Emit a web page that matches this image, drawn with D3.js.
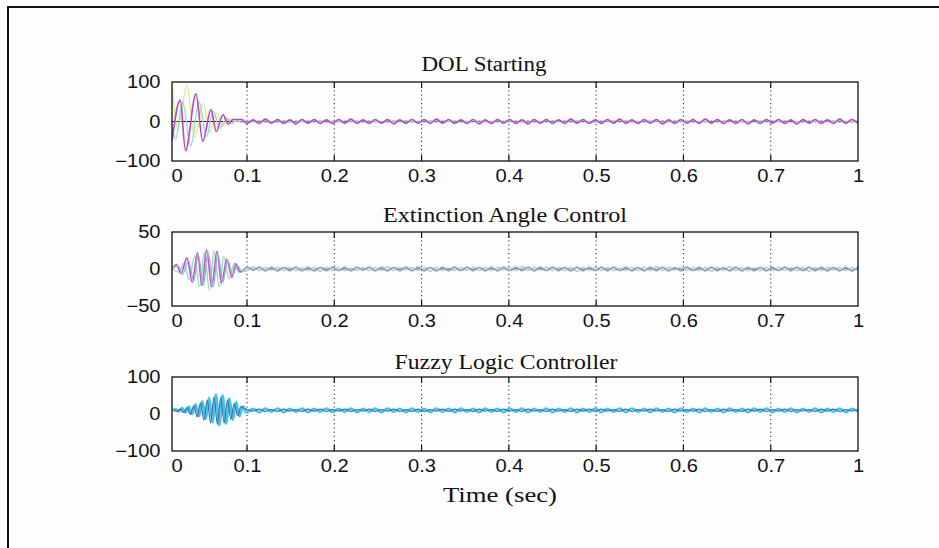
<!DOCTYPE html>
<html>
<head>
<meta charset="utf-8">
<script src="https://cdn.jsdelivr.net/npm/d3@7"></script>
<style>
  body { margin: 0; background: #fdfdfd; }
  svg { display: block; }
  .tick text { font-family: "Liberation Sans", Arial, sans-serif; font-size: 17.5px; fill: #111; }
  .title { font-family: "Liberation Serif", "Times New Roman", serif; font-size: 20px; fill: #111; }
</style>
</head>
<body>
<svg id="chart" width="939" height="548"></svg>
<script>
// axis text
const xTicks = [0, 0.1, 0.2, 0.3, 0.4, 0.5, 0.6, 0.7, 0.8];
const xTickLabels = ["0", "0.1", "0.2", "0.3", "0.4", "0.5", "0.6", "0.7", "1"];
const titles = ["DOL Starting", "Extinction Angle Control", "Fuzzy Logic Controller"];
const xLabel = "Time (sec)";
const yDomains = [[-100, 100], [-50, 50], [-100, 100]];
const yTicks = [[-100, 0, 100], [-50, 0, 50], [-100, 0, 100]];
const yTickLabels = [["\u2212100", "0", "100"], ["\u221250", "0", "50"], ["\u2212100", "0", "100"]];

// start-up transients, [time, value] at each swing
const dolA = [[0,-50],[0.011,54],[0.018,-74],[0.032,70],[0.041,-50],[0.052,30],[0.059,-25],[0.068,17],[0.075,-7],[0.081,5]];
const dolB = [[0,-10],[0.005,-45],[0.014,50],[0.025,-62],[0.036,50],[0.046,-38],[0.055,26],[0.064,-18],[0.072,10],[0.08,-5]];
const dolC = [[0,98],[0.008,-20],[0.02,92],[0.03,-40],[0.042,45],[0.05,-28],[0.06,22],[0.067,-12],[0.074,7]];

const extA = [[0,0],[0.006,6],[0.012,-6],[0.02,15],[0.027,-18],[0.034,22],[0.04,-22],[0.046,26],[0.053,-24],[0.06,24],[0.066,-19],[0.073,13],[0.08,-11],[0.085,7],[0.091,-4]];
const extB = [[0,0],[0.009,-4],[0.016,8],[0.023,-15],[0.03,17],[0.037,-24],[0.043,22],[0.05,-28],[0.056,24],[0.063,-24],[0.069,17],[0.076,-13],[0.083,8],[0.089,-4]];
const extC = [[0,1],[0.008,4],[0.014,-7],[0.022,11],[0.029,-16],[0.035,19],[0.042,-22],[0.048,23],[0.055,-24],[0.061,20],[0.068,-17],[0.074,12],[0.081,-8],[0.087,5],[0.093,-3]];

const fuzCyan = [[0,10],[0.0045,13],[0.009,7],[0.0135,16],[0.018,4],[0.0225,20],[0.027,0],[0.0315,26],[0.036,-6],[0.0405,34],[0.045,-14],[0.0495,44],[0.054,-22],[0.0585,52],[0.063,-30],[0.0675,50],[0.072,-26],[0.0765,42],[0.081,-16],[0.0855,32],[0.09,-6],[0.0945,20],[0.099,4]];
const fuzBlue = [[0.002,10],[0.0065,7],[0.011,13],[0.0155,4],[0.02,17],[0.0245,-1],[0.029,23],[0.0335,-8],[0.038,30],[0.0425,-16],[0.047,38],[0.0515,-24],[0.056,46],[0.0605,-28],[0.065,45],[0.0695,-24],[0.074,38],[0.0785,-14],[0.083,28],[0.0875,-4],[0.092,20]];

// steady ripple afterwards, one value per half swing
const tSteady = [
  0.086, 0.093, 0.1, 0.107, 0.114, 0.121, 0.128, 0.135, 0.142, 0.149,
  0.156, 0.163, 0.17, 0.177, 0.184, 0.191, 0.198, 0.205, 0.212, 0.219,
  0.226, 0.233, 0.24, 0.247, 0.254, 0.261, 0.268, 0.275, 0.282, 0.289,
  0.296, 0.303, 0.31, 0.317, 0.324, 0.331, 0.338, 0.345, 0.352, 0.359,
  0.366, 0.373, 0.38, 0.387, 0.394, 0.401, 0.408, 0.415, 0.422, 0.429,
  0.436, 0.443, 0.45, 0.457, 0.464, 0.471, 0.478, 0.485, 0.492, 0.499,
  0.506, 0.513, 0.52, 0.527, 0.534, 0.541, 0.548, 0.555, 0.562, 0.569,
  0.576, 0.583, 0.59, 0.597, 0.604, 0.611, 0.618, 0.625, 0.632, 0.639,
  0.646, 0.653, 0.66, 0.667, 0.674, 0.681, 0.688, 0.695, 0.702, 0.709,
  0.716, 0.723, 0.73, 0.737, 0.744, 0.751, 0.758, 0.765, 0.772, 0.779,
  0.786, 0.793, 0.8
];
const dolASteady = [
  -4,5,-5,4,-5,6,-4,5,-5,4, -6,5,-4,5,-5,4,-5,5,-4,6, -5,4,-5,5,-4,5,-6,4,-5,5,
  -4,5,-5,6,-4,5,-5,4,-5,5, -6,4,-5,5,-4,5,-5,4,-6,5, -4,5,-5,4,-5,6,-4,5,-5,4,
  -5,5,-4,6,-5,4,-5,5,-4,5, -6,4,-5,5,-4,5,-5,6,-4,5, -5,4,-5,5,-6,4,-5,5,-4,5,
  -5,4,-6,5,-4,5,-5,4,-5,6, -4,5,-5
];
const dolBSteady = [
  2,-2,2,-1,2,-2,1,-2,2,-2, 2,-1,2,-2,2,-2,1,-2,2,-1, 2,-2,2,-2,1,-2,2,-1,2,-2,
  1,-2,2,-2,2,-1,2,-2,1,-2, 2,-2,1,-2,2,-1,2,-2,2,-2, 1,-2,2,-1,2,-2,2,-2,1,-2,
  2,-1,2,-2,2,-2,1,-2,2,-1, 2,-2,2,-1,2,-2,1,-2,2,-2, 2,-1,2,-2,1,-2,2,-2,2,-1,
  2,-2,1,-2,2,-2,2,-1,2,-2, 1,-2,2
];
const dolCSteady = [
  -1,2,-2,1,-2,2,-1,2,-2,1, -2,1,-2,2,-1,2,-2,1,-2,2, -1,2,-2,1,-2,2,-1,2,-2,1,
  -2,2,-1,2,-2,1,-2,2,-1,2, -2,1,-2,2,-1,2,-2,1,-2,2, -1,2,-2,1,-2,2,-1,2,-2,1,
  -2,2,-1,2,-2,1,-2,2,-1,2, -2,1,-2,2,-1,2,-2,1,-2,2, -1,2,-2,1,-2,2,-1,2,-2,1,
  -2,2,-1,2,-2,1,-2,2,-1,2, -2,1,-2
];
const extASteady = [
  1,-2,2,-1,2,-2,1,-2,2,-1, 2,-2,1,-2,2,-1,2,-2,1,-2, 2,-1,2,-2,1,-2,2,-1,2,-2,
  1,-2,2,-2,1,-1,2,-2,2,-1, 2,-2,1,-2,2,-2,1,-1,2,-2, 1,-2,2,-1,2,-2,2,-1,1,-2,
  2,-1,2,-2,1,-2,2,-2,1,-1, 2,-2,1,-1,2,-2,1,-2,2,-1, 1,-2,2,-2,1,-1,2,-2,1,-2,
  2,-1,2,-2,2,-1,1,-2,2,-2, 1,-2,2
];
const extBSteady = [
  -2,2,-2,3,-2,2,-1,2,-2,2, -2,1,-2,2,-3,2,-2,2,-2,1, -2,2,-2,2,-2,3,-2,2,-1,2,
  -2,2,-3,2,-2,1,-2,2,-2,2, -2,2,-2,2,-1,2,-2,3,-2,2, -1,2,-2,2,-2,2,-3,2,-2,2,
  -2,2,-2,1,-2,2,-2,2,-2,3, -2,2,-1,2,-2,2,-2,2,-3,2, -2,3,-2,2,-2,1,-2,2,-2,2,
  -2,2,-2,2,-3,2,-2,2,-1,2, -2,2,-2
];
const extCSteady = [
  3,-3,3,-2,3,-3,3,-3,2,-3, 3,-3,3,-3,2,-3,3,-2,3,-3, 3,-2,3,-3,3,-3,2,-3,3,-3,
  3,-3,2,-3,3,-3,3,-2,3,-3, 2,-3,3,-3,3,-2,3,-3,3,-3, 3,-2,3,-3,2,-3,3,-3,3,-2,
  3,-3,3,-2,3,-3,2,-3,3,-3, 3,-3,2,-3,3,-2,3,-3,3,-3, 2,-3,3,-3,3,-3,2,-3,3,-2,
  3,-3,3,-2,3,-3,3,-3,2,-3, 3,-3,3
];
const fuzCyanSteady = [
  5,15,6,14,5,15,6,15,5,14, 6,15,5,14,6,15,5,14,6,15, 5,14,6,15,5,15,6,14,5,15,
  6,14,5,15,6,14,5,15,6,14, 5,15,6,14,5,15,6,15,5,14, 6,15,5,14,6,15,5,14,6,15,
  5,14,6,15,5,15,6,14,5,15, 6,14,5,15,6,14,5,15,6,14, 5,15,6,14,5,15,6,15,5,14,
  6,15,5,14,6,15,5,14,6,15, 5,14,6
];
const fuzBlueSteady = [
  13,7,12,8,13,7,12,7,13,8, 12,7,13,8,13,7,12,8,13,7, 12,8,13,7,12,8,13,7,12,7,
  13,7,12,8,13,7,13,8,12,7, 13,8,12,7,13,8,12,7,13,8, 12,7,13,8,12,7,13,8,13,7,
  13,8,12,7,13,7,12,8,13,8, 12,7,13,8,12,8,13,7,12,7, 13,8,12,7,13,8,13,7,12,8,
  13,7,12,8,12,7,13,8,13,7, 12,8,13
];

// layout
const W = 939, H = 548;
const left = 172, split = 247, right = 858;
const tops = [82, 232, 377], bottoms = [161, 306, 451];
const titleX = [484, 505, 506], titleY = [71, 222, 369], titleLen = [125, 244, 223];
const stretch = "scale(1.15,1)";

function joinSeries(head, steady) {
  const last = head[head.length - 1][0];
  const tail = tSteady.map((t, i) => [t, steady[i]])
    .filter(d => d[0] >= last + 0.005 && d[1] != null);
  return head.concat(tail);
}

const panels = [
  [
    { color: "#e6e682", width: 1.3, data: joinSeries(dolC, dolCSteady) },
    { color: "#8fd6e4", width: 1.3, data: joinSeries(dolB, dolBSteady) },
    { color: "#bf45bf", width: 1.6, data: joinSeries(dolA, dolASteady) }
  ],
  [
    { color: "#93e0ae", width: 1.4, data: joinSeries(extB, extBSteady) },
    { color: "#c455cc", width: 1.6, data: joinSeries(extA, extASteady) },
    { color: "#8fb4cc", width: 1.3, data: joinSeries(extC, extCSteady) }
  ],
  [
    { color: "#3fc6ee", width: 2.6, data: joinSeries(fuzCyan, fuzCyanSteady) },
    { color: "#4a6aa6", width: 1.2, data: joinSeries(fuzBlue, fuzBlueSteady) }
  ]
];

const svg = d3.select("#chart");

// page frame (left and top edges only)
svg.append("path")
  .attr("d", `M8,${H} V7 H${W}`)
  .attr("fill", "none").attr("stroke", "#111").attr("stroke-width", 2);

const x = d3.scaleLinear().domain([0, 0.1, 0.8]).range([left, split, right]);
const inner = xTicks.slice(1, -1);

panels.forEach((series, k) => {
  const top = tops[k], bottom = bottoms[k];
  const y = d3.scaleLinear().domain(yDomains[k]).range([bottom, top]);
  const g = svg.append("g");

  svg.append("clipPath").attr("id", "clip" + k)
    .append("rect").attr("x", left).attr("y", top)
    .attr("width", right - left).attr("height", bottom - top);

  // dotted grid
  g.selectAll(".grid").data(inner).join("line")
    .attr("x1", d => x(d)).attr("x2", d => x(d))
    .attr("y1", top).attr("y2", bottom)
    .attr("stroke", "#222").attr("stroke-width", 1)
    .attr("stroke-dasharray", "1.2,3");

  // inward tick marks top and bottom
  g.selectAll(".tk").data(inner.flatMap(d => [[d, top, top + 6], [d, bottom, bottom - 6]])).join("line")
    .attr("x1", d => x(d[0])).attr("x2", d => x(d[0]))
    .attr("y1", d => d[1]).attr("y2", d => d[2])
    .attr("stroke", "#111").attr("stroke-width", 1.2);

  const line = d3.line().x(d => x(d[0])).y(d => y(d[1])).curve(d3.curveMonotoneX);
  const lines = g.append("g").attr("clip-path", `url(#clip${k})`);

  if (k === 0) {
    lines.append("line")
      .attr("x1", left).attr("x2", right).attr("y1", y(0)).attr("y2", y(0))
      .attr("stroke", "#111").attr("stroke-width", 1.1);
  }

  lines.selectAll("path").data(series).join("path")
    .attr("d", s => line(s.data))
    .attr("fill", "none")
    .attr("stroke", s => s.color)
    .attr("stroke-width", s => s.width)
    .attr("stroke-linejoin", "round");

  // box
  g.append("rect")
    .attr("x", left).attr("y", top)
    .attr("width", right - left).attr("height", bottom - top)
    .attr("fill", "none").attr("stroke", "#111").attr("stroke-width", 1.3);

  const xAxis = g.append("g").attr("transform", `translate(0,${bottom})`)
    .call(d3.axisBottom(x).tickValues(xTicks).tickFormat((d, i) => xTickLabels[i]).tickSize(0).tickPadding(9));
  xAxis.select(".domain").remove();
  xAxis.selectAll("text").attr("x", (d, i) => i === 0 ? 4 : 0).attr("transform", stretch);

  const yAxis = g.append("g").attr("transform", `translate(${left},0)`)
    .call(d3.axisLeft(y).tickValues(yTicks[k]).tickFormat((d, i) => yTickLabels[k][i]).tickSize(0).tickPadding(10));
  yAxis.select(".domain").remove();
  yAxis.selectAll("text").attr("transform", stretch);

  g.append("text").attr("class", "title")
    .attr("x", titleX[k]).attr("y", titleY[k])
    .attr("text-anchor", "middle")
    .attr("textLength", titleLen[k]).attr("lengthAdjust", "spacingAndGlyphs")
    .text(titles[k]);
});

svg.append("text").attr("class", "title")
  .attr("x", 500).attr("y", 502)
  .attr("text-anchor", "middle")
  .style("font-size", "21px")
  .attr("textLength", 114).attr("lengthAdjust", "spacingAndGlyphs")
  .text(xLabel);
</script>
</body>
</html>
